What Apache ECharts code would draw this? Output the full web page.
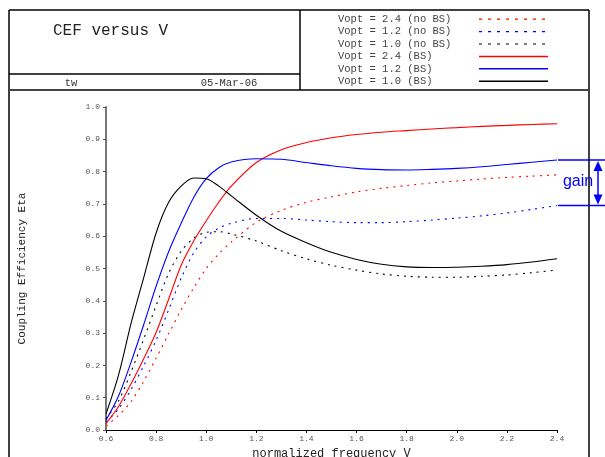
<!DOCTYPE html>
<html><head><meta charset="utf-8">
<script src="https://cdn.jsdelivr.net/npm/echarts@6/dist/echarts.min.js"></script>
<style>html,body{margin:0;padding:0;background:#fff}#c{width:605px;height:457px}</style>
</head><body><div id="c"></div>
<script>
var V = [0.6,0.65,0.7,0.75,0.8,0.85,0.9,0.95,1.0,1.05,1.1,1.2,1.3,1.4,1.5,1.6,1.7,1.8,1.9,2.0,2.1,2.2,2.3,2.4];
var eta24noBS = [0.012,0.045,0.088,0.15,0.222,0.298,0.372,0.44,0.5,0.545,0.582,0.643,0.68,0.705,0.722,0.737,0.748,0.757,0.765,0.771,0.777,0.782,0.786,0.79];
var eta12noBS = [0.025,0.065,0.125,0.198,0.278,0.372,0.47,0.548,0.598,0.625,0.64,0.655,0.655,0.65,0.645,0.642,0.642,0.645,0.65,0.656,0.663,0.672,0.683,0.695];
var eta10noBS = [0.035,0.09,0.18,0.28,0.385,0.485,0.553,0.594,0.612,0.614,0.607,0.585,0.555,0.53,0.51,0.495,0.483,0.476,0.473,0.473,0.476,0.48,0.487,0.495];
var eta24BS = [0.02,0.073,0.143,0.22,0.302,0.405,0.51,0.585,0.648,0.705,0.755,0.828,0.868,0.89,0.905,0.915,0.922,0.927,0.932,0.936,0.94,0.943,0.946,0.948];
var eta12BS = [0.03,0.105,0.21,0.325,0.445,0.552,0.64,0.72,0.778,0.812,0.83,0.84,0.838,0.828,0.818,0.81,0.806,0.805,0.807,0.81,0.815,0.822,0.829,0.836];
var eta10BS = [0.05,0.17,0.33,0.47,0.61,0.705,0.755,0.78,0.778,0.755,0.725,0.665,0.615,0.58,0.55,0.528,0.513,0.505,0.503,0.504,0.507,0.512,0.52,0.53];
var seriesNames = ['Vopt = 2.4 (no BS)','Vopt = 1.2 (no BS)','Vopt = 1.0 (no BS)','Vopt = 2.4 (BS)','Vopt = 1.2 (BS)','Vopt = 1.0 (BS)'];
var seriesData = [eta24noBS, eta12noBS, eta10noBS, eta24BS, eta12BS, eta10BS];
var seriesColors = ['#ff0000','#0000ff','#000000','#ff0000','#0000ff','#000000'];
var seriesDotted = [true,true,true,false,false,false];
var titleText = 'CEF versus V';
var authorText = 'tw';
var dateText = '05-Mar-06';
var gainText = 'gain';

var mono = '"Liberation Mono", "DejaVu Sans Mono", monospace';
function pairs(arr){ return V.map(function(v,i){ return [v, arr[i]]; }); }

var chart = echarts.init(document.getElementById('c'), null, {renderer:'canvas'});
var series = seriesNames.map(function(n,i){
  return {
    name: n, type: 'line', data: pairs(seriesData[i]), smooth: 0.3,
    symbol: 'none', showSymbol: false,
    lineStyle: {color: seriesColors[i], width: 1.1, type: seriesDotted[i] ? [2,5] : 'solid'},
    itemStyle: {color: seriesColors[i]}, z: 3
  };
});

var frame = '#000';
var option = {
  animation: false,
  backgroundColor: '#fff',
  grid: {left: 106, right: 48, top: 107, bottom: 27, containLabel: false, outerBoundsMode: 'none'},
  xAxis: {
    type: 'value', min: 0.6, max: 2.4, interval: 0.2,
    name: 'normalized frequency V', nameLocation: 'middle', nameGap: 13,
    nameTextStyle: {fontFamily: mono, fontSize: 12, color: '#222'},
    axisLine: {show: true, lineStyle: {color: '#000', width: 1}},
    axisTick: {show: true, inside: false, length: 3, lineStyle: {color: '#000'}},
    axisLabel: {fontFamily: mono, fontSize: 8, color: '#555', margin: 5, formatter: function(v){ return v.toFixed(1); }},
    splitLine: {show: false}
  },
  yAxis: {
    type: 'value', min: 0, max: 1, interval: 0.1,
    name: 'Coupling Efficiency Eta', nameLocation: 'middle', nameGap: 78, nameRotate: 90,
    nameTextStyle: {fontFamily: mono, fontSize: 11, color: '#222'},
    axisLine: {show: true, lineStyle: {color: '#777', width: 2}},
    axisTick: {show: true, inside: false, length: 3, lineStyle: {color: '#555'}},
    axisLabel: {fontFamily: mono, fontSize: 8, color: '#555', margin: 6, formatter: function(v){ return v.toFixed(1); }},
    splitLine: {show: false}
  },
  legend: {
    orient: 'vertical', left: 338, top: 13, align: 'right', padding: 0,
    itemWidth: 69, itemHeight: 12.4, itemGap: 0,
    itemStyle: {opacity: 0},
    formatter: function(n){ return '{a|' + n + '}'; },
    textStyle: {fontFamily: mono, fontSize: 10.5, color: '#444', lineHeight: 12.4,
      rich: {a: {width: 136, align: 'left', fontFamily: mono, fontSize: 10.5, color: '#444', lineHeight: 12.4}}},
    data: seriesNames.map(function(n, i){
      return seriesDotted[i] ? {name: n, lineStyle: {type: [3, 6], width: 1.2}} : {name: n, lineStyle: {width: 1.5}};
    })
  },
  series: series,
  graphic: []
};
chart.setOption(option);

var g = [];
function line(x1,y1,x2,y2,w,c){ g.push({type:'line', shape:{x1:x1,y1:y1,x2:x2,y2:y2}, style:{stroke:c||frame, lineWidth:w||1.2}, silent:true, z:10}); }
line(9,10,589,10,1.5);
line(9,10,9,457,1.5);
line(589,10,589,457,1.5);
line(9,90,589,90,2,'#444');
line(300,10,300,90,1.5);
line(9,74,300,74,1.5);
g.push({type:'text', x: 53, y: 31, style:{text: titleText, font: '16px ' + mono, fill:'#222', textVerticalAlign:'middle'}, z:10});
g.push({type:'text', x: 71, y: 83, style:{text: authorText, font: '10.5px ' + mono, fill:'#333', textAlign:'center', textVerticalAlign:'middle'}, z:10});
g.push({type:'text', x: 229, y: 83, style:{text: dateText, font: '10.5px ' + mono, fill:'#333', textAlign:'center', textVerticalAlign:'middle'}, z:10});

var yTop = chart.convertToPixel({gridIndex:0}, [2.4, eta12BS[eta12BS.length-1]])[1];
var yBot = chart.convertToPixel({gridIndex:0}, [2.4, eta12noBS[eta12noBS.length-1]])[1];
var xEnd = chart.convertToPixel({gridIndex:0}, [2.4, 0])[0];
line(xEnd+1, yTop, 605, yTop, 1.5, '#0000ff');
line(xEnd+1, yBot, 605, yBot, 1.5, '#0000ff');
var ax = 598;
line(ax, yTop+8, ax, yBot-8, 1.5, '#0000ff');
g.push({type:'polygon', shape:{points:[[ax,yTop+1],[ax-4.5,yTop+11],[ax+4.5,yTop+11]]}, style:{fill:'#0000ff'}, z:10});
g.push({type:'polygon', shape:{points:[[ax,yBot-1],[ax-4.5,yBot-11],[ax+4.5,yBot-11]]}, style:{fill:'#0000ff'}, z:10});
g.push({type:'text', x: 578, y: (yTop+yBot)/2 - 1, style:{text: gainText, font: '16px "Liberation Sans", Arial, sans-serif', fill:'#0000ff', textAlign:'center', textVerticalAlign:'middle'}, z:11});

chart.setOption({graphic: g});
</script></body></html>
